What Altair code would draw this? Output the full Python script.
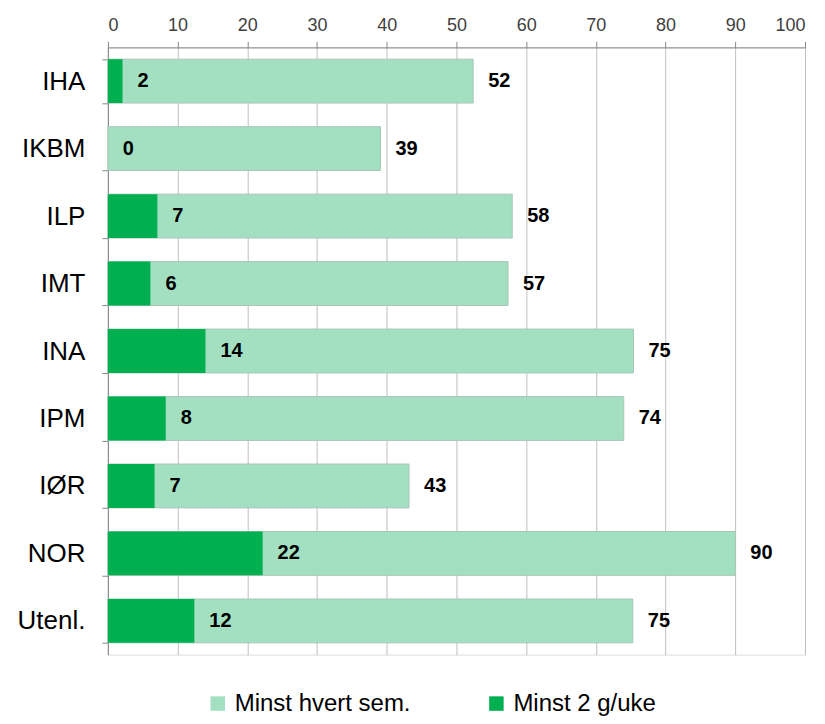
import altair as alt
import pandas as pd

categories = ["IHA", "IKBM", "ILP", "IMT", "INA", "IPM", "IØR", "NOR", "Utenl."]
minst_hvert_sem = [52.4, 39.1, 58.0, 57.4, 75.4, 74.0, 43.2, 90.0, 75.3]
minst_2_g_uke = [2.1, 0.0, 7.1, 6.1, 14.0, 8.3, 6.7, 22.2, 12.4]
series_names = ["Minst hvert sem.", "Minst 2 g/uke"]
series_colors = ["#A3E0C2", "#00B050"]
x_ticks = list(range(0, 101, 10))

rows = []
for c, v in zip(categories, minst_hvert_sem):
    rows.append({"cat": c, "serie": series_names[0], "value": v})
for c, v in zip(categories, minst_2_g_uke):
    rows.append({"cat": c, "serie": series_names[1], "value": v})
df = pd.DataFrame(rows)

FONT = "Liberation Sans"

color_scale = alt.Scale(domain=series_names, range=series_colors)

y_enc = alt.Y(
    "cat:N",
    sort=categories,
    title=None,
    scale=alt.Scale(paddingInner=0.35, paddingOuter=0.175),
    axis=alt.Axis(
        tickBand="extent",
        tickSize=6,
        tickColor="#868686",
        domainColor="#868686",
        labelFontSize=26,
        labelFont=FONT,
        labelColor="#000000",
        labelPadding=17,
        grid=False,
    ),
)

x_scale = alt.Scale(domain=[0, 100], nice=False)
x_axis = alt.Axis(
    orient="top",
    values=x_ticks,
    tickSize=6,
    tickColor="#868686",
    domainColor="#868686",
    gridColor="#BFBFBF",
    grid=True,
    labelFontSize=18,
    labelFont=FONT,
    labelColor="#404040",
    labelPadding=7,
    title=None,
)

legend = alt.Legend(
    title=None,
    orient="none",
    legendX=98,
    legendY=645,
    direction="horizontal",
    symbolType="square",
    symbolSize=210,
    symbolStrokeWidth=0,
    labelFontSize=24,
    labelFont=FONT,
    labelColor="#000000",
    labelOffset=5,
    columnPadding=73,
    labelLimit=400,
)

color_enc = alt.Color("serie:N", scale=color_scale, legend=legend)

base = alt.Chart(df)

light = base.transform_filter(alt.datum.serie == series_names[0]).mark_bar(
    stroke="#A9C6B8", strokeWidth=1
).encode(
    x=alt.X("value:Q", scale=x_scale, axis=x_axis),
    y=y_enc,
    color=color_enc,
)

dark = base.transform_filter(alt.datum.serie == series_names[1]).mark_bar().encode(
    x=alt.X("value:Q", scale=x_scale, axis=x_axis),
    y=y_enc,
    color=color_enc,
)

text = base.mark_text(
    align="left", baseline="middle", dx=15, fontSize=20, fontWeight="bold", font=FONT, color="#000000"
).encode(
    x=alt.X("value:Q", scale=x_scale),
    y=alt.Y("cat:N", sort=categories),
    text=alt.Text("value:Q", format=".0f"),
)

chart = (
    alt.layer(light, dark, text)
    .properties(
        width=698,
        height=608,
        autosize=alt.AutoSizeParams(type="none"),
        padding={"left": 100, "top": 39, "right": 12, "bottom": 62},
    )
    .configure_view(stroke=None)
    .configure(background="#FFFFFF")
)

chart.save("out.html", embed_options={"renderer": "svg", "actions": False})
